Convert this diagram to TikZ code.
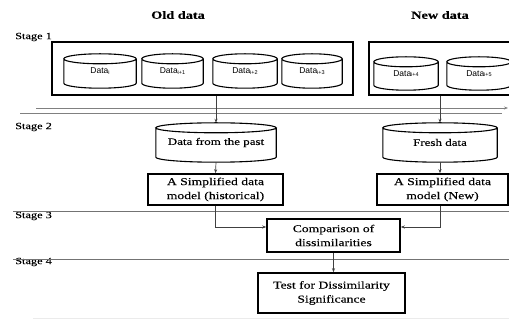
\documentclass[tikz,border=0pt]{standalone}
\usepackage{fontspec}
\setmainfont[FakeStretch=1.3,FakeBold=0.15]{Liberation Serif}
\newfontfamily\dsans{Liberation Sans}
\usetikzlibrary{arrows.meta,calc}
\newcommand\dlabel[1]{\raisebox{-3pt}{\dsans\fontsize{8.5}{9}\selectfont Data\raisebox{-0.6pt}{\fontsize{5.5}{6}\selectfont #1}}}
\tikzset{
  frame/.style={draw=black, line width=1.5pt, inner sep=0pt},
  cylbody/.style={inner sep=0pt},
  cylline/.style={draw=black, line width=1.1pt},
  cyltext/.style={inner sep=0pt, font=\fontsize{10}{12}\selectfont},
  procbox/.style={draw=black, line width=1.5pt, align=center, font=\fontsize{10.5}{14}\selectfont, inner sep=0pt},
  stagelbl/.style={anchor=west, inner sep=0pt, font=\fontsize{9.5}{11}\selectfont},
  heading/.style={font=\bfseries\fontsize{11}{13}\selectfont, inner sep=0pt},
  stageline/.style={draw=black!55, line width=0.8pt},
  flow/.style={draw=black!75, line width=0.7pt, -{Stealth[length=4pt,width=3pt]}},
  sepline/.style={draw=black!50, line width=0.8pt},
}
\begin{document}
\begin{tikzpicture}[x=1pt,y=1pt]
\useasboundingbox (0,0) rectangle (509,-320);
\clip (0,0) rectangle (509,-320);
% headings
\node[heading] (hold) at (178,-15) {Old data};
\node[heading] (hnew) at (440,-15) {New data};
% stage labels
\node[stagelbl] (s1) at (15,-37) {Stage 1};
\node[stagelbl] (s2) at (15,-127) {Stage 2};
\node[stagelbl] (s3) at (15,-216) {Stage 3};
\node[stagelbl] (s4) at (15,-262) {Stage 4};
% frames
\node[frame, minimum width=301pt, minimum height=53pt] (leftbox) at (202.5,-68.5) {};
\node[frame, minimum width=151pt, minimum height=53pt] (rightbox) at (444.5,-68.5) {};
% cylinders
\node[cylbody, minimum width=72pt, minimum height=34pt] (d0) at (100,-71) {\dlabel{i}};
\node[cylbody, minimum width=61pt, minimum height=34pt] (d1) at (172.5,-71) {\dlabel{i+1}};
\node[cylbody, minimum width=64pt, minimum height=34pt] (d2) at (245,-71) {\dlabel{i+2}};
\node[cylbody, minimum width=60pt, minimum height=34pt] (d3) at (312,-71) {\dlabel{i+3}};
\node[cylbody, minimum width=64pt, minimum height=33pt] (d4) at (406,-73.5) {\dlabel{i+4}};
\node[cylbody, minimum width=64pt, minimum height=33pt] (d5) at (479,-73.5) {\dlabel{i+5}};
\node[cylbody, cyltext, minimum width=120pt, minimum height=39pt] (past) at (216,-142.5) {\raisebox{-2pt}{Data from the past}};
\node[cylbody, cyltext, minimum width=114pt, minimum height=39pt] (fresh) at (440,-142.5) {\raisebox{-2pt}{Fresh data}};
\foreach \cy in {d0,d1,d2,d3,d4,d5,past,fresh}{
  \draw[cylline] let \p1=(\cy.north west), \p2=(\cy.south east), \n1={0.5*(\x2-\x1)} in
    (\x1,\y1-5pt) -- (\x1,\y2+5pt) arc[start angle=180, end angle=360, x radius=\n1, y radius=5pt] -- (\x2,\y1-5pt)
    ({0.5*(\x1+\x2)},\y1-5pt) ellipse[x radius=\n1, y radius=5pt];
}
% process boxes
\node[procbox, minimum width=135pt, minimum height=31pt] (hist) at (215.5,-189.5) {A Simplified data\\model (historical)};
\node[procbox, minimum width=131pt, minimum height=31pt] (newm) at (442.5,-189.5) {A Simplified data\\model (New)};
\node[procbox, minimum width=133pt, minimum height=33pt] (comp) at (333.5,-235.5) {Comparison of\\dissimilarities};
\node[procbox, minimum width=147pt, minimum height=40pt] (test) at (331.5,-293) {Test for Dissimilarity\\Significance};
% separator lines
\coordinate (h1a) at (36,-108);
\coordinate (h1b) at (508,-108);
\coordinate (h2a) at (20,-113);
\coordinate (h2b) at (502,-113);
\coordinate (l3a) at (13,-211);
\coordinate (l3b) at (509,-211);
\coordinate (l4a) at (13,-259);
\coordinate (l4b) at (509,-259);
\coordinate (l5a) at (33,-318);
\coordinate (l5b) at (509,-318);
\draw[sepline, -{Stealth[length=4pt,width=3pt]}] (h1a) -- (h1b);
\draw[sepline] (h2a) -- (h2b);
\draw[stageline] (l3a) -- (l3b);
\draw[stageline] (l4a) -- (l4b);
\draw[draw=black!8, line width=0.8pt] (l5a) -- (l5b);
% flow
\draw[flow] (past.north |- leftbox.south) -- (past.north);
\draw[flow] (fresh.north |- rightbox.south) -- (fresh.north);
\draw[flow] (past.south) -- (hist.north);
\draw[flow] (fresh.south) -- (fresh.south |- newm.north);
\draw[flow] (hist.south) |- ([yshift=8.5pt]comp.west);
\draw[flow] (fresh.south |- newm.south) |- ([yshift=8.5pt]comp.east);
\draw[flow] (comp.south) -- (comp.south |- test.north);
\end{tikzpicture}
\end{document}
